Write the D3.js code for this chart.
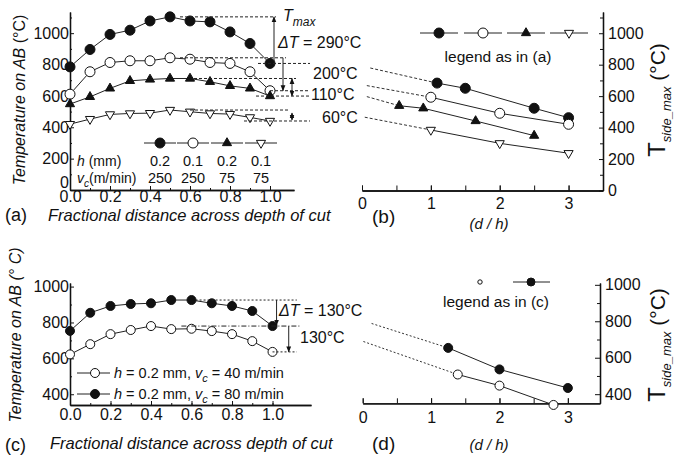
<!DOCTYPE html>
<html>
<head>
<meta charset="UTF-8">
<script src="https://d3js.org/d3.v7.min.js"></script>
<style>
  body { margin: 0; background: #fff; }
  svg text { font-family: 'Liberation Sans', Arial, sans-serif; fill: #111; }
  .axis path, .axis line { stroke: #111; }
  .axis text { font-size: 16px; }
</style>
</head>
<body>
<svg id="chart" width="675" height="457"></svg>
<script>
// ---- data ----
const frac = [0, 0.1, 0.2, 0.3, 0.4, 0.5, 0.6, 0.7, 0.8, 0.9, 1.0];

// (a) temperature along AB
const aFilledCircle = [785, 896, 992, 1019, 1078, 1104, 1078, 1072, 1008, 934, 807];
const aOpenCircle   = [611, 754, 813, 824, 824, 843, 834, 813, 807, 754, 633];
const aFilledTri    = [548, 594, 648, 696, 705, 711, 711, 690, 664, 648, 599];
const aOpenTri      = [420, 452, 482, 488, 490, 510, 499, 488, 484, 463, 440];
const hVals  = ['0.2', '0.1', '0.2', '0.1'];
const vcVals = ['250', '250', '75', '75'];
const deltaA = ['290', '200', '110', '60'];

// (b) T side max vs d/h
const bFilledCircleX = [1.09, 1.5, 2.5, 3.0], bFilledCircleY = [683, 650, 523, 463];
const bOpenCircleX   = [1.0, 2.0, 3.0],       bOpenCircleY   = [593, 491, 421];
const bFilledTriX    = [0.54, 0.89, 1.65, 2.5], bFilledTriY  = [539, 523, 442, 349];
const bOpenTriX      = [1.0, 2.0, 3.0],       bOpenTriY      = [385, 300, 237];
const bExtX = [0.12, 0.07, 0.07, 0.04], bExtY = [779, 667, 597, 466];

// (c) two cutting speeds
const cOpen   = [622, 679, 735, 758, 780, 763, 765, 752, 735, 696, 636];
const cFilled = [753, 854, 892, 903, 907, 925, 925, 907, 892, 864, 780];
const cLegend = ['40', '80'];
const deltaC = ['130', '130'];

// (d)
const dFilledX = [1.25, 2.0, 3.0], dFilledY = [654, 536, 434];
const dOpenX   = [1.39, 2.0, 2.79], dOpenY  = [508, 447, 341];
const dExtX = [0.13, 0.01], dExtY = [788, 689];

// ---- helpers ----
const svg = d3.select('#chart');
const defs = svg.append('defs');
defs.append('marker').attr('id', 'ah').attr('viewBox', '0 0 10 10')
  .attr('refX', 9).attr('refY', 5).attr('markerWidth', 6).attr('markerHeight', 7)
  .attr('orient', 'auto-start-reverse')
  .append('path').attr('d', 'M0,1 L10,5 L0,9 z').attr('fill', '#111');

const shapes = [
  { type: d3.symbolCircle, fill: '#111', rot: 0 },
  { type: d3.symbolCircle, fill: '#fff', rot: 0 },
  { type: d3.symbolTriangle, fill: '#111', rot: 0 },
  { type: d3.symbolTriangle, fill: '#fff', rot: 180 }
];

function marker(g, cx, cy, s, size) {
  const area = s.type === d3.symbolCircle ? Math.PI * size * size : size * size * 1.2;
  g.append('path')
    .attr('d', d3.symbol().type(s.type).size(area)())
    .attr('transform', `translate(${cx},${cy}) rotate(${s.rot})`)
    .attr('fill', s.fill).attr('stroke', '#111').attr('stroke-width', 1);
}

function series(g, xs, ys, x, y, s, size) {
  const pts = xs.map((d, i) => [x(d), y(ys[i])]);
  g.append('path').attr('d', d3.line()(pts)).attr('fill', 'none')
    .attr('stroke', '#222').attr('stroke-width', 1);
  pts.forEach(p => marker(g, p[0], p[1], s, size));
}

function hline(g, x0, x1, y, dash) {
  g.append('line').attr('x1', x0).attr('x2', x1).attr('y1', y).attr('y2', y)
    .attr('stroke', '#222').attr('stroke-width', 1).attr('stroke-dasharray', dash || '3,2');
}

function arrow(g, x, y0, y1, both) {
  const l = g.append('line').attr('x1', x).attr('x2', x).attr('y1', y0).attr('y2', y1)
    .attr('stroke', '#222').attr('stroke-width', 1).attr('marker-end', 'url(#ah)');
  if (both) l.attr('marker-start', 'url(#ah)');
}

function styleAxis(sel) {
  sel.attr('class', 'axis');
  sel.select('.domain').attr('stroke-width', 1.3);
}

const italic = 'italic';
const fmtInt = d3.format('d');

// ================= panel (a) =================
const xa = d3.scaleLinear().domain([0, 1.12]).range([70, 294]);
const ya = d3.scaleLinear().domain([0, 1135]).range([190, 12]);
const ga = svg.append('g');

ga.append('g').attr('transform', 'translate(0,190)')
  .call(d3.axisBottom(xa).tickValues(d3.range(0, 1.01, 0.1)).tickSize(-2).tickSizeOuter(0).tickFormat(''))
  .call(styleAxis);
ga.append('g').attr('transform', 'translate(0,190)')
  .call(d3.axisBottom(xa).tickValues([0, 0.2, 0.4, 0.6, 0.8, 1.0]).tickSize(-4).tickSizeOuter(0)
    .tickFormat(d3.format('.1f')).tickPadding(1))
  .call(styleAxis)
  .call(g => g.selectAll('.tick text').attr('font-size', 15.5));
ga.append('g').attr('transform', 'translate(70,0)')
  .call(d3.axisLeft(ya).tickValues(d3.range(100, 1101, 200)).tickSize(-2).tickSizeOuter(0).tickFormat(''))
  .call(styleAxis);
ga.append('g').attr('transform', 'translate(70,0)')
  .call(d3.axisLeft(ya).tickValues([0, 200, 400, 600, 800, 1000]).tickSize(-4).tickSizeOuter(0)
    .tickFormat(fmtInt).tickPadding(1))
  .call(styleAxis)
  .call(g => g.selectAll('.tick text').filter(d => d === 0).attr('dy', '-0.15em'));

const aSeries = [aFilledCircle, aOpenCircle, aFilledTri, aOpenTri];
aSeries.forEach((ys, i) => series(ga, frac, ys, xa, ya, shapes[i], i < 2 ? 5 : 5.5));

// delta-T annotations
hline(ga, xa(0.55), xa(1.03), ya(d3.max(aFilledCircle)));
arrow(ga, xa(1.02), ya(aFilledCircle[10]) - 2, ya(d3.max(aFilledCircle)));
hline(ga, xa(0.94), xa(1.2), ya(aFilledCircle[10]));
hline(ga, xa(0.55), xa(1.08), ya(d3.max(aOpenCircle)));
arrow(ga, xa(1.065), ya(d3.max(aOpenCircle)), ya(aOpenCircle[10]));
hline(ga, xa(1.0), xa(1.2), ya(aOpenCircle[10]));
hline(ga, xa(0.62), xa(1.13), ya(d3.max(aFilledTri)));
arrow(ga, xa(1.11), ya(d3.max(aFilledTri)), ya(aFilledTri[10]), true);
hline(ga, xa(0.93), xa(1.2), ya(aFilledTri[10]));
hline(ga, xa(0.6), xa(1.1), ya(d3.max(aOpenTri)));
arrow(ga, xa(1.11), ya(d3.max(aOpenTri)) + 3, ya(aOpenTri[10]) - 1, true);
hline(ga, xa(0.87), xa(1.2), ya(aOpenTri[10]));

const tm = ga.append('text').attr('x', 283).attr('y', 21).attr('font-size', 16).attr('font-style', italic);
tm.append('tspan').text('T');
tm.append('tspan').attr('font-size', 12).attr('dy', 5).text('max');
const dt = ga.append('text').attr('x', 278).attr('y', 48).attr('font-size', 16);
dt.append('tspan').attr('font-style', italic).text('ΔT');
dt.append('tspan').text(` = ${deltaA[0]}°C`);
ga.append('text').attr('x', 313).attr('y', 79).attr('font-size', 16).text(`${deltaA[1]}°C`);
ga.append('text').attr('x', 311).attr('y', 100).attr('font-size', 16).text(`${deltaA[2]}°C`);
ga.append('text').attr('x', 322).attr('y', 123).attr('font-size', 16).text(`${deltaA[3]}°C`);

// legend (a)
const legXa = [0.45, 0.615, 0.785, 0.955].map(xa);
legXa.forEach((lx, i) => {
  ga.append('line').attr('x1', lx - 16).attr('x2', lx + 16).attr('y1', 143).attr('y2', 143)
    .attr('stroke', '#222').attr('stroke-width', 1);
  marker(ga, lx, 143, shapes[i], i < 2 ? 5 : 5.5);
  ga.append('text').attr('x', lx).attr('y', 166).attr('text-anchor', 'middle').attr('font-size', 14.5).text(hVals[i]);
  ga.append('text').attr('x', lx).attr('y', 183).attr('text-anchor', 'middle').attr('font-size', 14.5).text(vcVals[i]);
});
const hl = ga.append('text').attr('x', 77).attr('y', 166).attr('font-size', 14);
hl.append('tspan').attr('font-style', italic).text('h');
hl.append('tspan').text(' (mm)');
const vl = ga.append('text').attr('x', 77).attr('y', 183).attr('font-size', 14);
vl.append('tspan').attr('font-style', italic).text('v');
vl.append('tspan').attr('font-style', italic).attr('font-size', 10).attr('dy', 4).text('c');
vl.append('tspan').attr('dy', -4).text('(m/min)');

ga.append('text').attr('x', 5).attr('y', 221).attr('font-size', 18).text('(a)');
ga.append('text').attr('x', 48).attr('y', 221).attr('font-size', 16.5).attr('font-style', italic)
  .text('Fractional distance across depth of cut');
const yla = ga.append('text').attr('transform', 'translate(25,100) rotate(-90)')
  .attr('text-anchor', 'middle').attr('font-size', 16);
yla.append('tspan').attr('font-style', italic).text('Temperature on AB  ');
yla.append('tspan').text('(°C)');

// ================= panel (b) =================
const xb = d3.scaleLinear().domain([0, 3.5]).range([362, 603]);
const yb = d3.scaleLinear().domain([0, 1135]).range([190.5, 12]);
const gb = svg.append('g');

gb.append('g').attr('transform', 'translate(0,190.5)')
  .call(d3.axisBottom(xb).tickValues(d3.range(0, 3.01, 0.5)).tickSize(-5).tickSizeOuter(0).tickFormat(''))
  .call(styleAxis);
gb.append('g').attr('transform', 'translate(0,190.5)')
  .call(d3.axisBottom(xb).tickValues([0, 1, 2, 3]).tickSize(-5).tickSizeOuter(0)
    .tickFormat(fmtInt).tickPadding(7))
  .call(styleAxis);
gb.append('g').attr('transform', 'translate(603,0)')
  .call(d3.axisRight(yb).tickValues(d3.range(100, 1101, 200)).tickSize(-3).tickSizeOuter(0).tickFormat(''))
  .call(styleAxis);
gb.append('g').attr('transform', 'translate(603,0)')
  .call(d3.axisRight(yb).tickValues([0, 200, 400, 600, 800, 1000]).tickSize(-4).tickSizeOuter(0)
    .tickFormat(fmtInt).tickPadding(5))
  .call(styleAxis);

const bX = [bFilledCircleX, bOpenCircleX, bFilledTriX, bOpenTriX];
const bY = [bFilledCircleY, bOpenCircleY, bFilledTriY, bOpenTriY];
bX.forEach((xs, i) => {
  gb.append('line').attr('x1', xb(bExtX[i])).attr('y1', yb(bExtY[i]))
    .attr('x2', xb(xs[0])).attr('y2', yb(bY[i][0]))
    .attr('stroke', '#333').attr('stroke-width', 1).attr('stroke-dasharray', '3,2');
  series(gb, xs, bY[i], xb, yb, shapes[i], i < 2 ? 5 : 5.5);
});

const legXb = [439, 483, 526, 569];
legXb.forEach((lx, i) => {
  gb.append('line').attr('x1', lx - 19).attr('x2', lx + 19).attr('y1', 33).attr('y2', 33)
    .attr('stroke', '#222').attr('stroke-width', 1);
  marker(gb, lx, 33, shapes[i], i < 2 ? 5 : 5.5);
});
gb.append('text').attr('x', 498).attr('y', 62).attr('text-anchor', 'middle').attr('font-size', 15.5)
  .text('legend as in (a)');

gb.append('text').attr('x', 372).attr('y', 223).attr('font-size', 19).text('(b)');
gb.append('text').attr('x', 489).attr('y', 229).attr('text-anchor', 'middle').attr('font-size', 15)
  .attr('font-style', italic).text('(d / h)');

function rightLabel(g, cx, cy) {
  const t = g.append('text').attr('transform', `translate(${cx},${cy}) rotate(-90)`)
    .attr('text-anchor', 'middle');
  t.append('tspan').attr('font-size', 24).text('T');
  t.append('tspan').attr('font-size', 13).attr('font-style', italic).attr('dy', 6).text('side_max');
  t.append('tspan').attr('font-size', 21).attr('dy', -6).text(' (°C)');
}
rightLabel(gb, 665, 100);

// ================= panel (c) =================
const xc = d3.scaleLinear().domain([0, 1.19]).range([70, 311]);
const yc = d3.scaleLinear().domain([340, 1020]).range([405, 283]);
const gc = svg.append('g');

gc.append('g').attr('transform', 'translate(0,405)')
  .call(d3.axisBottom(xc).tickValues(d3.range(0, 1.01, 0.1)).tickSize(-2).tickSizeOuter(0).tickFormat(''))
  .call(styleAxis);
gc.append('g').attr('transform', 'translate(0,405)')
  .call(d3.axisBottom(xc).tickValues([0, 0.2, 0.4, 0.6, 0.8, 1.0]).tickSize(-4).tickSizeOuter(0)
    .tickFormat(d3.format('.1f')).tickPadding(4))
  .call(styleAxis);
gc.append('g').attr('transform', 'translate(70,0)')
  .call(d3.axisLeft(yc).tickValues([500, 700, 900]).tickSize(-2).tickSizeOuter(0).tickFormat(''))
  .call(styleAxis);
gc.append('g').attr('transform', 'translate(70,0)')
  .call(d3.axisLeft(yc).tickValues([400, 600, 800, 1000]).tickSize(-4).tickSizeOuter(0)
    .tickFormat(fmtInt).tickPadding(1))
  .call(styleAxis);

series(gc, frac, cOpen, xc, yc, shapes[1], 4.5);
series(gc, frac, cFilled, xc, yc, shapes[0], 4.5);

hline(gc, xc(0.62), xc(1.12), yc(d3.max(cFilled)), '2,2');
arrow(gc, xc(1.02), yc(d3.max(cFilled)), yc(cFilled[10]) - 1);
hline(gc, xc(0.55), xc(1.14), yc(cFilled[10]), '5,2,1,2');
arrow(gc, xc(1.08), yc(d3.max(cOpen)), yc(cOpen[10]));
hline(gc, xc(1.0), xc(1.12), yc(cOpen[10]), '2,2');
const dtc = gc.append('text').attr('x', 279).attr('y', 316).attr('font-size', 16);
dtc.append('tspan').attr('font-style', italic).text('ΔT');
dtc.append('tspan').text(` = ${deltaC[0]}°C`);
gc.append('text').attr('x', 300).attr('y', 343).attr('font-size', 16).text(`${deltaC[1]}°C`);

// legend (c)
[[373, 1], [394, 0]].forEach(([ly, si], i) => {
  gc.append('line').attr('x1', 77).attr('x2', 110).attr('y1', ly).attr('y2', ly)
    .attr('stroke', '#222').attr('stroke-width', 1);
  marker(gc, 95, ly, shapes[si], 4.5);
  const t = gc.append('text').attr('x', 114).attr('y', ly + 5).attr('font-size', 14.5);
  t.append('tspan').attr('font-style', italic).text('h');
  t.append('tspan').text(' = 0.2 mm,  ');
  t.append('tspan').attr('font-style', italic).text('v');
  t.append('tspan').attr('font-style', italic).attr('font-size', 11).attr('dy', 4).text('c');
  t.append('tspan').attr('dy', -4).text(` = ${cLegend[i]} m/min`);
});

gc.append('text').attr('x', 5).attr('y', 451).attr('font-size', 18).text('(c)');
gc.append('text').attr('x', 50).attr('y', 449).attr('font-size', 16.5).attr('font-style', italic)
  .text('Fractional distance across depth of cut');
const ylc = gc.append('text').attr('transform', 'translate(21,335) rotate(-90)')
  .attr('text-anchor', 'middle').attr('font-size', 16).attr('font-style', italic);
ylc.append('tspan').text('Temperature on AB  (° C)');

// ================= panel (d) =================
const xd = d3.scaleLinear().domain([0, 3.47]).range([362.7, 600]);
const yd = d3.scaleLinear().domain([350, 1010]).range([403.3, 283]);
const gd = svg.append('g');

gd.append('g').attr('transform', 'translate(0,403.3)')
  .call(d3.axisBottom(xd).tickValues(d3.range(0, 3.01, 0.5)).tickSize(-5).tickSizeOuter(0).tickFormat(''))
  .call(styleAxis);
gd.append('g').attr('transform', 'translate(0,403.3)')
  .call(d3.axisBottom(xd).tickValues([0, 1, 2, 3]).tickSize(-5).tickSizeOuter(0)
    .tickFormat(fmtInt).tickPadding(8))
  .call(styleAxis);
gd.append('g').attr('transform', 'translate(600,0)')
  .call(d3.axisRight(yd).tickValues([500, 700, 900]).tickSize(-3).tickSizeOuter(0).tickFormat(''))
  .call(styleAxis);
gd.append('g').attr('transform', 'translate(600,0)')
  .call(d3.axisRight(yd).tickValues([400, 600, 800, 1000]).tickSize(-5).tickSizeOuter(0)
    .tickFormat(fmtInt).tickPadding(5))
  .call(styleAxis);

[[dFilledX, dFilledY, 0], [dOpenX, dOpenY, 1]].forEach(([xs, ys, si], i) => {
  gd.append('line').attr('x1', xd(dExtX[i])).attr('y1', yd(dExtY[i]))
    .attr('x2', xd(xs[0])).attr('y2', yd(ys[0]))
    .attr('stroke', '#333').attr('stroke-width', 1).attr('stroke-dasharray', '2,2');
  series(gd, xs, ys, xd, yd, shapes[si], 4.5);
});

// legend (d)
marker(gd, 480, 282, shapes[1], 2.2);
gd.append('line').attr('x1', 513).attr('x2', 550).attr('y1', 282).attr('y2', 282)
  .attr('stroke', '#222').attr('stroke-width', 1);
marker(gd, 531, 282, shapes[0], 4);
gd.append('text').attr('x', 496).attr('y', 307).attr('text-anchor', 'middle').attr('font-size', 15.5)
  .text('legend as in (c)');

gd.append('text').attr('x', 372).attr('y', 450).attr('font-size', 19).text('(d)');
gd.append('text').attr('x', 489).attr('y', 450).attr('text-anchor', 'middle').attr('font-size', 15)
  .attr('font-style', italic).text('(d / h)');
rightLabel(gd, 665, 345);
</script>
</body>
</html>
